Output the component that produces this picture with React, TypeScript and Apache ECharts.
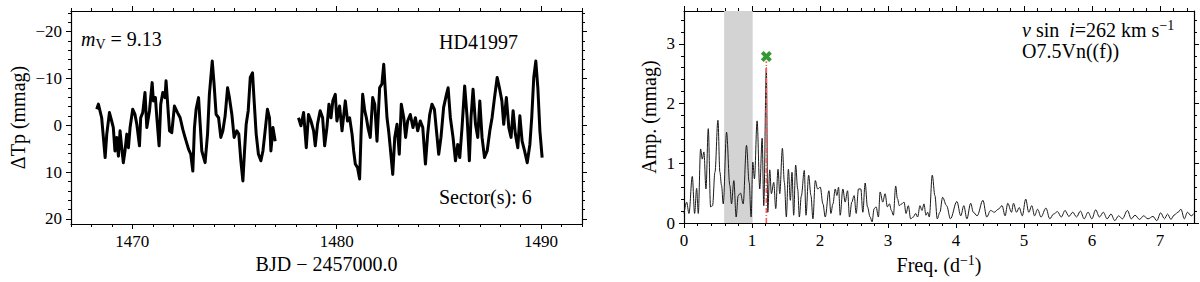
import React, { useEffect, useRef } from "react";
import * as echarts from "echarts";

// ---------------- data ----------------
// Light curve (BJD - 2457000, delta Tp in mmag), TESS sector 6, two orbits
const lcSegment1: [number, number][] = [
  [1468.26, -3.4], [1468.34, -4.5], [1468.5, -1.6], [1468.67, 6.9], [1468.75, 1.9], [1468.88, -2.7],
  [1468.99, -0.9], [1469.07, 0.5], [1469.15, 5.5], [1469.24, 2.6], [1469.32, 6.6], [1469.4, 1.2],
  [1469.48, 4.8], [1469.56, 8.0], [1469.64, 5.5], [1469.73, 1.9], [1469.81, 4.8], [1469.89, 0.5],
  [1470.02, -3.4], [1470.13, -2.3], [1470.22, -0.2], [1470.35, 4.4], [1470.41, -1.6], [1470.51, -2.7],
  [1470.62, -7.0], [1470.71, 0.5], [1470.84, -3.1], [1470.97, -9.1], [1471.03, -5.2], [1471.13, -5.9],
  [1471.2, -1.6], [1471.31, 4.4], [1471.39, -4.5], [1471.49, -7.0], [1471.6, -5.9], [1471.65, -9.5],
  [1471.73, -4.5], [1471.82, 1.2], [1471.93, 1.6], [1472.06, -4.1], [1472.21, -2.7], [1472.34, -1.6],
  [1472.47, 0.9], [1472.58, 2.6], [1472.75, 5.1], [1472.86, 6.2], [1472.96, 9.8], [1473.04, 0.5],
  [1473.12, -3.4], [1473.24, -5.9], [1473.32, -0.2], [1473.4, 5.5], [1473.56, 8.0], [1473.68, 1.9],
  [1473.77, -6.6], [1473.91, -13.7], [1474.0, -8.8], [1474.1, -2.3], [1474.22, -1.6], [1474.33, 2.6],
  [1474.43, 1.2], [1474.54, -2.0], [1474.66, -8.0], [1474.75, -5.9], [1474.87, -2.3], [1474.98, 2.6],
  [1475.11, 1.2], [1475.21, 1.9], [1475.31, 7.6], [1475.41, 11.9], [1475.49, 5.5], [1475.57, -0.2],
  [1475.67, -3.1], [1475.77, -10.2], [1475.88, -11.2], [1475.96, -5.2], [1476.06, 1.9], [1476.17, 6.2],
  [1476.29, 7.6], [1476.39, 5.5], [1476.48, 1.9], [1476.61, -3.4], [1476.71, -1.6], [1476.78, 5.5],
  [1476.88, 0.5], [1476.99, 3.4],
];
const lcSegment2: [number, number][] = [
  [1478.13, -1.6], [1478.25, 0.1], [1478.38, -2.7], [1478.51, 4.8], [1478.62, -2.3], [1478.74, -0.9],
  [1478.87, 1.2], [1478.95, 4.4], [1479.06, -0.2], [1479.19, -3.1], [1479.31, -1.6], [1479.41, 4.4],
  [1479.52, 0.5], [1479.62, -4.5], [1479.72, -1.6], [1479.81, -5.2], [1479.93, -6.6], [1480.01, -0.9],
  [1480.14, -4.1], [1480.26, 1.2], [1480.42, -5.2], [1480.53, -0.9], [1480.63, -1.6], [1480.75, 1.9],
  [1480.83, 5.5], [1480.91, 8.3], [1481.02, 9.1], [1481.12, 11.5], [1481.19, 1.9], [1481.27, -6.6],
  [1481.37, -3.1], [1481.45, -1.6], [1481.53, 0.5], [1481.64, 2.6], [1481.76, -5.9], [1481.86, -4.5],
  [1481.97, 3.4], [1482.1, -8.0], [1482.21, -8.8], [1482.3, -13.0], [1482.38, -7.3], [1482.46, -1.6],
  [1482.54, 1.2], [1482.62, 4.8], [1482.74, 10.5], [1482.84, 2.6], [1482.95, -0.2], [1483.06, 6.2],
  [1483.16, -4.5], [1483.28, -1.6], [1483.37, 2.6], [1483.47, -0.9], [1483.6, -2.3], [1483.73, 0.5],
  [1483.85, -1.6], [1483.96, 1.2], [1484.09, -0.9], [1484.21, 0.5], [1484.34, 8.3], [1484.45, 1.9],
  [1484.55, -2.3], [1484.66, -4.5], [1484.78, -3.4], [1484.88, 1.2], [1484.99, 6.2], [1485.1, 2.6],
  [1485.23, -3.8], [1485.37, -6.6], [1485.45, -8.0], [1485.56, -1.6], [1485.69, 2.6], [1485.81, 7.6],
  [1485.92, 4.1], [1486.02, 6.9], [1486.13, 0.5], [1486.26, -8.4], [1486.38, -1.6], [1486.49, 7.6],
  [1486.57, -1.6], [1486.67, -7.7], [1486.79, -0.2], [1486.9, 2.6], [1487.0, -5.2], [1487.11, 2.6],
  [1487.23, 6.9], [1487.36, 5.5], [1487.49, 1.2], [1487.6, -1.6], [1487.72, -5.9], [1487.85, -10.2],
  [1487.96, -8.0], [1488.08, -5.2], [1488.17, -0.2], [1488.3, -5.9], [1488.42, 0.5], [1488.53, 2.6],
  [1488.63, -3.1], [1488.74, 1.9], [1488.86, 4.8], [1488.96, -2.0], [1489.07, 3.4], [1489.19, 5.5],
  [1489.32, 8.0], [1489.45, 4.1], [1489.54, -1.6], [1489.64, -10.2], [1489.74, -13.7], [1489.84, -8.0],
  [1489.94, 1.2], [1490.05, 6.9],
];

// Amplitude spectrum (frequency in 1/d, amplitude in mmag)
const psPoints: [number, number][] = [
  [0.0, 0.16], [0.039, 0.35], [0.073, 0.16], [0.122, 0.78], [0.156, 0.16], [0.186, 0.58], [0.21, 0.16],
  [0.244, 1.24], [0.269, 1.07], [0.293, 1.19], [0.323, 0.57], [0.357, 1.58], [0.391, 0.27], [0.42, 0.29],
  [0.455, 0.85], [0.499, 1.72], [0.528, 0.85], [0.552, 0.63], [0.577, 0.32], [0.626, 1.52], [0.674, 0.63],
  [0.699, 0.32], [0.733, 0.71], [0.767, 0.1], [0.797, 0.46], [0.831, 0.5], [0.87, 0.32], [0.919, 1.3],
  [0.958, 0.68], [0.987, 0.1], [1.012, 1.02], [1.036, 0.74], [1.075, 1.71], [1.114, 0.57], [1.149, 1.42],
  [1.173, 0.29], [1.211, 2.6], [1.232, 0.18], [1.261, 0.89], [1.285, 0.49], [1.32, 0.68], [1.349, 0.24],
  [1.383, 0.9], [1.408, 0.49], [1.447, 1.25], [1.476, 0.68], [1.505, 0.1], [1.535, 0.9], [1.564, 0.38],
  [1.588, 0.85], [1.613, 0.13], [1.642, 0.97], [1.672, 0.57], [1.696, 0.1], [1.725, 0.45], [1.769, 0.88],
  [1.794, 0.13], [1.833, 0.8], [1.867, 0.46], [1.896, 0.07], [1.931, 0.71], [1.965, 0.57], [2.004, 0.6],
  [2.043, 0.32], [2.077, 0.1], [2.131, 0.54], [2.16, 0.16], [2.19, 0.32], [2.224, 0.57], [2.248, 0.46],
  [2.273, 0.6], [2.297, 0.13], [2.336, 0.57], [2.37, 0.35], [2.405, 0.54], [2.434, 0.1], [2.468, 0.35],
  [2.502, 0.46], [2.532, 0.16], [2.566, 0.57], [2.6, 0.57], [2.63, 0.18], [2.664, 0.67], [2.698, 0.27],
  [2.737, 0.1], [2.766, 0.02], [2.796, 0.24], [2.825, 0.27], [2.859, 0.1], [2.884, 0.52], [2.923, 0.35],
  [2.957, 0.49], [2.991, 0.27], [3.021, 0.32], [3.05, 0.21], [3.079, 0.13], [3.113, 0.62], [3.138, 0.41],
  [3.167, 0.29], [3.201, 0.32], [3.236, 0.35], [3.265, 0.16], [3.299, 0.29], [3.333, 0.07], [3.372, 0.1],
  [3.407, 0.16], [3.436, 0.1], [3.47, 0.29], [3.5, 0.21], [3.529, 0.32], [3.558, 0.13], [3.583, 0.18],
  [3.607, 0.1], [3.651, 0.8], [3.69, 0.46], [3.724, 0.07], [3.763, 0.18], [3.803, 0.43], [3.862, 0.29],
  [3.918, 0.07], [4.013, 0.36], [4.07, 0.12], [4.115, 0.29], [4.16, 0.07], [4.216, 0.33], [4.255, 0.18],
  [4.311, 0.12], [4.396, 0.38], [4.452, 0.1], [4.508, 0.21], [4.564, 0.18], [4.621, 0.23], [4.677, 0.29],
  [4.722, 0.12], [4.761, 0.33], [4.817, 0.18], [4.845, 0.33], [4.89, 0.18], [4.93, 0.26], [4.975, 0.12],
  [5.025, 0.4], [5.07, 0.18], [5.115, 0.29], [5.155, 0.12], [5.2, 0.23], [5.25, 0.1], [5.323, 0.25],
  [5.379, 0.07], [5.436, 0.15], [5.492, 0.19], [5.548, 0.1], [5.604, 0.21], [5.66, 0.11], [5.717, 0.18],
  [5.773, 0.1], [5.829, 0.2], [5.885, 0.07], [5.942, 0.18], [5.998, 0.07], [6.054, 0.22], [6.11, 0.1],
  [6.166, 0.18], [6.223, 0.07], [6.279, 0.15], [6.335, 0.04], [6.391, 0.12], [6.447, 0.07], [6.521, 0.21],
  [6.577, 0.07], [6.633, 0.13], [6.7, 0.06], [6.757, 0.12], [6.824, 0.07], [6.897, 0.11], [6.953, 0.04],
  [7.01, 0.17], [7.066, 0.07], [7.111, 0.15], [7.161, 0.06], [7.206, 0.13], [7.263, 0.18], [7.308, 0.23],
  [7.358, 0.07], [7.403, 0.18], [7.459, 0.12], [7.5, 0.16],
];

const lowFreqBand = [0.59, 1.01];
const peakFreq = 1.211;
const peakMarkerAmp = 2.79;
const peakLineTop = 2.71;

// axes ranges and ticks
const lcXRange = [1467, 1492];
const lcYRange = [-24.4, 21.1];
const psXRange = [0, 7.5];
const psYRange = [0, 3.55];
const lcXTicks = [1470, 1480, 1490];
const lcYTicks = [-20, -10, 0, 10, 20];
const psXTicks = [0, 1, 2, 3, 4, 5, 6, 7];
const psYTicks = [0, 1, 2, 3];
const lcXMinorStep = 1;
const lcYMinorStep = 2;
const psXMinorStep = 0.2;
const psYMinorStep = 0.2;

const annotations = {
  mag: "{it|m}{sub|V} = 9.13",
  star: "HD41997",
  sector: "Sector(s): 6",
  vsini: "{it|v} sin  {it|i}=262 km s{sup|\u22121}",
  spt: "O7.5Vn((f))",
};

// ---------------- helpers ----------------
const FONT = "Liberation Serif";

function minorTicks(min: number, max: number, step: number, majors: number[]) {
  const out: number[] = [];
  const n0 = Math.ceil(min / step - 1e-9);
  const n1 = Math.floor(max / step + 1e-9);
  for (let k = n0; k <= n1; k++) {
    const v = Math.round(k * step * 1000) / 1000;
    if (!majors.some((m) => Math.abs(m - v) < 1e-6)) out.push(v);
  }
  return out;
}

const fmt = (v: number) => (v < 0 ? "\u2212" + String(-v) : String(v));

// Per grid: [labels, name, near-side major ticks + line, near minor, far major + line, far minor]
function buildAxes(
  dim: "x" | "y",
  grid: number,
  range: number[],
  major: number[],
  minor: number[],
  name: string,
  nameGap: number,
  inverse: boolean,
  nameExtra: any = {}
) {
  const p1 = dim === "x" ? "bottom" : "left";
  const p2 = dim === "x" ? "top" : "right";
  const core = (position: string) => ({
    type: "value",
    gridIndex: grid,
    min: range[0],
    max: range[1],
    inverse,
    position,
    splitLine: { show: false },
  });
  const labelAxis = {
    ...core(p1),
    axisLine: { show: false, onZero: false },
    axisTick: { show: false },
    axisLabel: { color: "#000", fontSize: 17, fontFamily: FONT, customValues: major, formatter: fmt, margin: 9 },
  };
  const nameAxis = {
    ...core(p1),
    axisLine: { show: false, onZero: false },
    axisTick: { show: false },
    axisLabel: { show: false },
    name,
    nameLocation: "middle",
    nameGap,
    nameTextStyle: { fontFamily: FONT, fontSize: 20, color: "#000", ...nameExtra },
  };
  const tickAxis = (position: string, showLine: boolean, ticks: number[], len: number) => ({
    ...core(position),
    axisLine: { show: showLine, onZero: false, lineStyle: { color: "#000", width: 1.2 } },
    axisTick: { show: true, customValues: ticks, length: len, lineStyle: { color: "#000", width: 1 } },
    axisLabel: { show: false },
  });
  return [
    labelAxis,
    nameAxis,
    tickAxis(p1, true, major, 5),
    tickAxis(p1, false, minor, 3),
    tickAxis(p2, true, major, 5),
    tickAxis(p2, false, minor, 3),
  ];
}

const X_SYMBOL =
  "path://M1.5,0 L3,1.5 L4.5,0 L6,1.5 L4.5,3 L6,4.5 L4.5,6 L3,4.5 L1.5,6 L0,4.5 L1.5,3 L0,1.5 Z";

function textEl(x: number, y: number, text: string) {
  return {
    type: "text",
    x,
    y,
    silent: true,
    style: {
      text,
      fontFamily: FONT,
      fontSize: 20,
      lineHeight: 24,
      fill: "#000",
      align: "left",
      verticalAlign: "middle",
      rich: {
        it: { fontFamily: FONT, fontSize: 20, fontStyle: "italic", fill: "#000", lineHeight: 24 },
        sub: { fontFamily: FONT, fontSize: 14, fill: "#000", verticalAlign: "bottom", lineHeight: 14 },
        sup: { fontFamily: FONT, fontSize: 14, fill: "#000", verticalAlign: "top", lineHeight: 14 },
      },
    },
  };
}

const PS = 6; // index of the first axis of the right-hand grid

export default function App() {
  const ref = useRef<HTMLDivElement>(null);

  useEffect(() => {
    document.body.style.margin = "0";
    if (!ref.current) return;
    const chart = echarts.init(ref.current, undefined, { renderer: "svg" });

    const xAxes = [
      ...buildAxes("x", 0, lcXRange, lcXTicks, minorTicks(lcXRange[0], lcXRange[1], lcXMinorStep, lcXTicks),
        "BJD \u2212 2457000.0", 30, false),
      ...buildAxes("x", 1, psXRange, psXTicks, minorTicks(psXRange[0], psXRange[1], psXMinorStep, psXTicks),
        "Freq. (d{sup|\u22121})", 30, false, {
          lineHeight: 24,
          rich: { sup: { fontFamily: FONT, fontSize: 14, color: "#000", verticalAlign: "top", lineHeight: 14 } },
        }),
    ];
    const yAxes = [
      ...buildAxes("y", 0, lcYRange, lcYTicks, minorTicks(lcYRange[0], lcYRange[1], lcYMinorStep, lcYTicks),
        "\u0394Tp (mmag)", 43, true),
      ...buildAxes("y", 1, psYRange, psYTicks, minorTicks(psYRange[0], psYRange[1], psYMinorStep, psYTicks),
        "Amp. (mmag)", 25, false),
    ];

    const option: any = {
      animation: false,
      grid: [
        { left: 71, top: 11, width: 511, height: 213 },
        { left: 684, top: 11, width: 510, height: 213 },
      ],
      xAxis: xAxes,
      yAxis: yAxes,
      series: [
        {
          type: "line",
          xAxisIndex: 0,
          yAxisIndex: 0,
          data: lcSegment1,
          showSymbol: false,
          silent: true,
          lineStyle: { color: "#000", width: 3, join: "round" },
        },
        {
          type: "line",
          xAxisIndex: 0,
          yAxisIndex: 0,
          data: lcSegment2,
          showSymbol: false,
          silent: true,
          lineStyle: { color: "#000", width: 3, join: "round" },
        },
        {
          type: "line",
          xAxisIndex: PS,
          yAxisIndex: PS,
          data: [],
          z: 1,
          silent: true,
          markArea: {
            silent: true,
            itemStyle: { color: "#d3d3d3", opacity: 1 },
            data: [[{ xAxis: lowFreqBand[0] }, { xAxis: lowFreqBand[1] }]],
          },
        },
        {
          type: "line",
          xAxisIndex: PS,
          yAxisIndex: PS,
          data: psPoints,
          z: 3,
          showSymbol: false,
          silent: true,
          smooth: 0.35,
          smoothMonotone: "x",
          lineStyle: { color: "#1a1a1a", width: 1 },
        },
        {
          type: "line",
          xAxisIndex: PS,
          yAxisIndex: PS,
          data: [
            [peakFreq, 0],
            [peakFreq, peakLineTop],
          ],
          z: 4,
          showSymbol: false,
          silent: true,
          lineStyle: { color: "#ff5a5a", width: 1.6, type: [5, 2, 1, 2] },
        },
        {
          type: "scatter",
          xAxisIndex: PS,
          yAxisIndex: PS,
          data: [[peakFreq, peakMarkerAmp]],
          z: 5,
          silent: true,
          symbol: X_SYMBOL,
          symbolSize: 11,
          itemStyle: { color: "#008000" },
        },
      ],
      graphic: [
        textEl(81, 39, annotations.mag),
        textEl(439, 42, annotations.star),
        textEl(439, 197, annotations.sector),
        textEl(1022, 30, annotations.vsini),
        textEl(1022, 51, annotations.spt),
      ],
    };

    chart.setOption(option);
    return () => chart.dispose();
  }, []);

  return <div ref={ref} style={{ width: 1200, height: 282 }} />;
}
